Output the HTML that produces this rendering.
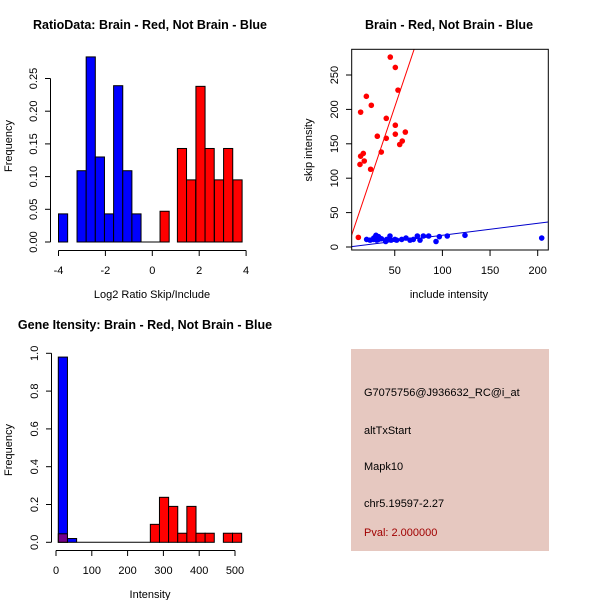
<!DOCTYPE html>
<html><head><meta charset="utf-8"><style>
body{margin:0;background:#fff}
svg{display:block;font-family:"Liberation Sans",Arial,sans-serif}
</style></head><body>
<svg id="c" width="600" height="600" xmlns="http://www.w3.org/2000/svg">
<rect width="600" height="600" fill="#fff"/>
</svg>
<script>
// Panel 1 data: ratio histogram
const p1BlueStarts=[-4,-3.21,-2.82,-2.43,-2.04,-1.65,-1.26,-0.87];
const p1BlueFreq=[0.043,0.109,0.283,0.130,0.043,0.239,0.109,0.043];
const p1RedStarts=[0.33,1.07,1.46,1.86,2.25,2.65,3.04,3.44];
const p1RedFreq=[0.047,0.143,0.095,0.238,0.143,0.095,0.143,0.095];
const p1Width=0.39;
const p1XTicks=[-4,-2,0,2,4];
const p1YTicks=["0.00","0.05","0.10","0.15","0.20","0.25"];
// Panel 2 data: scatter
const p2RedX=[11.8,13.5,14.2,17,18,14.2,20.2,24.7,25.4,31.7,35.9,41.1,41.1,45.3,50.6,50.6,50.6,53.4,55.2,57.9,61.1];
const p2RedY=[14,120,132,136,125,196,219,113,206,161,138,187,158,276,261,177,164,228,149,154,167];
const p2BlueX=[20.5,24.1,27.5,29.3,30.3,31.1,32.8,34.5,40.5,41.5,45,46.1,50.2,52,57.3,61.8,66,69.5,73.7,76.5,80,85.6,93.3,96.8,105.1,123.7,204.2,28,33,36];
const p2BlueY=[11,10,11,14,17,10,11,12,8,11,16,10,11,10,11,13,10,11,16,10,16,16,8,15,16,17,13,13,15,12];
const p2RedFit=[-2.4,4.12];
const p2BlueFit=[-0.3,0.174];
const p2XTicks=[50,100,150,200];
const p2YTicks=[0,50,100,150,200,250];
// Panel 3 data: intensity histogram
const p3BlueStarts=[6.4,32];
const p3BlueFreq=[0.98,0.02];
const p3RedStarts=[6.4,263.5,289,314.5,340,365.5,391,416.5,467.5,493];
const p3RedFreq=[0.045,0.095,0.238,0.19,0.048,0.19,0.048,0.048,0.048,0.048];
const p3Width=25.6;
const p3XTicks=[0,100,200,300,400,500];
const p3YTicks=["0.0","0.2","0.4","0.6","0.8","1.0"];

const svg=document.getElementById('c');
const NS="http://www.w3.org/2000/svg";
function mk(tag,attrs,parent){const e=document.createElementNS(NS,tag);for(const k in attrs)e.setAttribute(k,attrs[k]);(parent||svg).appendChild(e);return e;}
function txt(s,x,y,opt,name){const e=mk('text',Object.assign({x:x,y:y,'font-size':11,'text-anchor':'middle',fill:'#000'},opt||{}));e.textContent=s;


return e;}

// ---- Panel 1
{
const X=v=>58.5+(v+4)*23.45, Y=v=>242-v*654;
const g=mk('g',{});


p1BlueFreq.forEach((f,i)=>{const r=mk('rect',{x:X(p1BlueStarts[i]),y:Y(f),width:X(p1BlueStarts[i]+p1Width)-X(p1BlueStarts[i]),height:Y(0)-Y(f),fill:'#0000ff',stroke:'#000','stroke-width':1},g);

});
p1RedFreq.forEach((f,i)=>{const r=mk('rect',{x:X(p1RedStarts[i]),y:Y(f),width:X(p1RedStarts[i]+p1Width)-X(p1RedStarts[i]),height:Y(0)-Y(f),fill:'#ff0000',stroke:'#000','stroke-width':1},g);

});
mk('line',{x1:X(-0.5),x2:X(0.33),y1:242,y2:242,stroke:'#000'},g);
mk('line',{x1:X(-4),x2:X(4),y1:250.5,y2:250.5,stroke:'#000'},g);
p1XTicks.forEach(t=>{mk('line',{x1:X(t),x2:X(t),y1:250.5,y2:256,stroke:'#000'},g);txt(String(t).replace('-','\u2212').replace('\u2212','-'),X(t),274,{},'x-tick-label');});
mk('line',{x1:50.5,x2:50.5,y1:Y(0),y2:Y(0.25),stroke:'#000'},g);
p1YTicks.forEach(t=>{const y=Y(parseFloat(t));mk('line',{x1:45,x2:50.5,y1:y,y2:y,stroke:'#000'},g);txt(t,37,y,{transform:`rotate(-90 37 ${y})`},'y-tick-label');});
txt('RatioData: Brain - Red, Not Brain - Blue',150,29,{'font-weight':'bold','font-size':12.5},'chart-title-ratio');
txt('Log2 Ratio Skip/Include',152,298,{},'x-axis-title-ratio');
txt('Frequency',12,146,{transform:'rotate(-90 12 146)'},'y-axis-title-ratio');
}
// ---- Panel 2
{
const X=v=>347.1+v*0.953, Y=v=>247-v*0.688;
const g=mk('g',{});


mk('clipPath',{id:'cp'},g).appendChild(Object.assign(document.createElementNS(NS,'rect'),{}));
const cr=g.querySelector('clipPath rect');cr.setAttribute('x',351.7);cr.setAttribute('y',49.3);cr.setAttribute('width',196.6);cr.setAttribute('height',200.7);
const lg=mk('g',{'clip-path':'url(#cp)'},g);
const x0=4.8,x1=211;
const rl=mk('line',{x1:X(x0),y1:Y(p2RedFit[0]+p2RedFit[1]*x0),x2:X(x1),y2:Y(p2RedFit[0]+p2RedFit[1]*x1),stroke:'#ff0000'},lg);


const bl=mk('line',{x1:X(x0),y1:Y(p2BlueFit[0]+p2BlueFit[1]*x0),x2:X(x1),y2:Y(p2BlueFit[0]+p2BlueFit[1]*x1),stroke:'#0000cc'},lg);


p2BlueX.forEach((v,i)=>{const c=mk('circle',{cx:X(v),cy:Y(p2BlueY[i]),r:2.8,fill:'#0000ff'},lg);

});
p2RedX.forEach((v,i)=>{const c=mk('circle',{cx:X(v),cy:Y(p2RedY[i]),r:2.8,fill:'#ff0000'},lg);

});
mk('rect',{x:351.7,y:49.3,width:196.6,height:200.7,fill:'none',stroke:'#000'},g);
p2XTicks.forEach(t=>{mk('line',{x1:X(t),x2:X(t),y1:250,y2:256,stroke:'#000'},g);txt(String(t),X(t),274,{},'x-tick-label');});
p2YTicks.forEach(t=>{const y=Y(t);mk('line',{x1:346,x2:351.7,y1:y,y2:y,stroke:'#000'},g);txt(String(t),338,y,{transform:`rotate(-90 338 ${y})`},'y-tick-label');});
txt('Brain - Red, Not Brain - Blue',449,29,{'font-weight':'bold','font-size':12.5},'chart-title-scatter');
txt('include intensity',449,298,{},'x-axis-title-scatter');
txt('skip intensity',312,150,{transform:'rotate(-90 312 150)'},'y-axis-title-scatter');
}
// ---- Panel 3
{
const X=v=>56+v*0.358, Y=v=>542.3-v*189;
const g=mk('g',{});


p3BlueFreq.forEach((f,i)=>{const r=mk('rect',{x:X(p3BlueStarts[i]),y:Y(f),width:p3Width*0.358,height:Y(0)-Y(f),fill:'#0000ff',stroke:'#000'},g);

});
p3RedFreq.forEach((f,i)=>{const r=mk('rect',{x:X(p3RedStarts[i]),y:Y(f),width:p3Width*0.358,height:Y(0)-Y(f),fill:'#ff0000','fill-opacity':i==0?0.45:1,stroke:'#000'},g);

});
mk('line',{x1:X(58),x2:X(263.5),y1:542.3,y2:542.3,stroke:'#000'},g);
mk('line',{x1:X(0),x2:X(500),y1:550.5,y2:550.5,stroke:'#000'},g);
p3XTicks.forEach(t=>{mk('line',{x1:X(t),x2:X(t),y1:550.5,y2:556,stroke:'#000'},g);txt(String(t),X(t),574,{},'x-tick-label');});
mk('line',{x1:51.5,x2:51.5,y1:Y(0),y2:Y(1),stroke:'#000'},g);
p3YTicks.forEach(t=>{const y=Y(parseFloat(t));mk('line',{x1:46,x2:51.5,y1:y,y2:y,stroke:'#000'},g);txt(t,38,y,{transform:`rotate(-90 38 ${y})`},'y-tick-label');});
txt('Gene Itensity: Brain - Red, Not Brain - Blue',145,329,{'font-weight':'bold','font-size':12.5},'chart-title-intensity');
txt('Intensity',150,598,{},'x-axis-title-intensity');
txt('Frequency',12,450,{transform:'rotate(-90 12 450)'},'y-axis-title-intensity');
}
// ---- Panel 4 info box
{
const g=mk('g',{});


mk('rect',{x:351,y:349,width:198,height:202,fill:'#e6c8c0'},g);
const lines=[['G7075756@J936632_RC@i_at',396,'#000','probe-id'],['altTxStart',434,'#000','event-type'],['Mapk10',470,'#000','gene-name'],['chr5.19597-2.27',507,'#000','location'],['Pval: 2.000000',536,'#a00000','p-value']];
lines.forEach(l=>{const t=txt(l[0],364,l[1],{'text-anchor':'start',fill:l[2]},l[3]);g.appendChild(t);});
}
</script>
</body></html>
